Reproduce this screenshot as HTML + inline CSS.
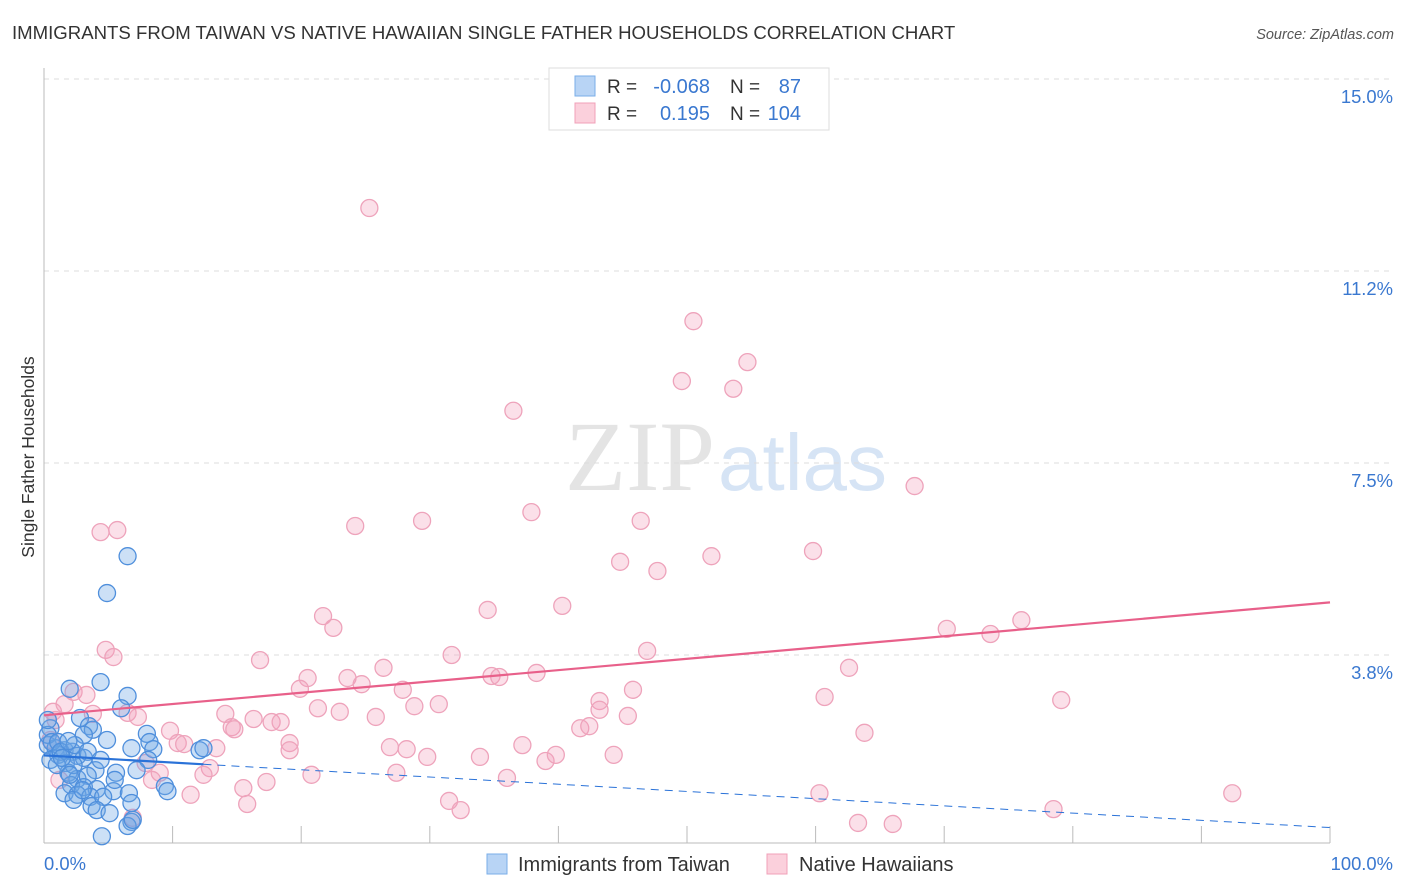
<!DOCTYPE html>
<html><head><meta charset="utf-8">
<style>
body{margin:0;background:#fff;font-family:"Liberation Sans",sans-serif;}
#wrap{position:relative;width:1406px;height:892px;overflow:hidden;}
</style></head>
<body>
<div id="wrap">
<svg id="svg" width="1406" height="892" xmlns="http://www.w3.org/2000/svg">
<text x="12" y="39" font-size="18.6" fill="#333">IMMIGRANTS FROM TAIWAN VS NATIVE HAWAIIAN SINGLE FATHER HOUSEHOLDS CORRELATION CHART</text>
<text x="1394" y="39" font-size="14.5" fill="#555" font-style="italic" text-anchor="end">Source: ZipAtlas.com</text>
<text x="715" y="490" font-size="100" fill="#e4e4e4" font-family="Liberation Serif,serif" text-anchor="end">ZIP</text>
<text x="718" y="490" font-size="80" fill="#d6e4f5">atlas</text>
<g id="grid"></g>
<g id="axes"></g>
<g id="pts"></g>
<g id="trend"></g>
<text transform="translate(34,457) rotate(-90)" font-size="17.5" fill="#333" text-anchor="middle">Single Father Households</text>
<g>
<rect x="549" y="68" width="280" height="62" fill="#fff" stroke="#ddd"/>
<rect x="575" y="76" width="20" height="20" fill="#b8d4f5" stroke="#7aaee8"/>
<rect x="575" y="103" width="20" height="20" fill="#fbd0dc" stroke="#f0a0b8"/>
<text x="607" y="93" font-size="19" fill="#333">R = </text><text x="710" y="93" font-size="20" fill="#3a78d0" text-anchor="end">-0.068</text>
<text x="730" y="93" font-size="19" fill="#333">N = </text><text x="801" y="93" font-size="20" fill="#3a78d0" text-anchor="end">87</text>
<text x="607" y="120" font-size="19" fill="#333">R = </text><text x="710" y="120" font-size="20" fill="#3a78d0" text-anchor="end">0.195</text>
<text x="730" y="120" font-size="19" fill="#333">N = </text><text x="801" y="120" font-size="20" fill="#3a78d0" text-anchor="end">104</text>
</g>
<g>
<rect x="487" y="854" width="20" height="20" fill="#b8d4f5" stroke="#7aaee8"/>
<text x="518" y="871" font-size="20" fill="#333">Immigrants from Taiwan</text>
<rect x="767" y="854" width="20" height="20" fill="#fbd0dc" stroke="#f0a0b8"/>
<text x="799" y="871" font-size="20" fill="#333">Native Hawaiians</text>
</g>
</svg>
</div>
<script>
const yTicks=[3.8,7.5,11.2,15.0];
const yTickVals=[3.75,7.5,11.25,15];
const xTickLabels=["0.0%","100.0%"];
const blueX=[6.5,4.9,4.4,2.0,6.5,6.0,2.8,3.5,3.8,3.1,0.5,8.0,4.9,8.2,0.3,0.9,1.6,2.2,6.8,8.5,12.1,12.4,1.1,2.6,3.1,0.5,1.7,8.1,4.0,5.6,7.2,1.9,2.6,3.4,2.1,3.1,4.1,9.4,1.6,2.6,3.6,5.4,6.6,9.6,2.3,3.7,4.6,6.8,4.1,5.1,6.8,6.5,6.9,4.5,0.3,0.6,1.1,1.3,2.4,1.9,3.4,1.0,2.3,1.4,0.3,4.4,3.0,2.0,5.5];
const blueY=[5.68,4.96,3.22,3.09,2.95,2.71,2.52,2.36,2.29,2.19,2.32,2.21,2.09,2.05,1.99,1.93,1.89,1.86,1.93,1.91,1.89,1.93,1.80,1.78,1.74,1.70,1.64,1.70,1.50,1.45,1.50,1.45,1.33,1.39,1.21,1.17,1.13,1.19,1.05,1.02,0.98,1.09,1.05,1.09,0.92,0.80,0.98,0.86,0.72,0.66,0.49,0.41,0.53,0.21,2.19,2.05,2.05,1.86,1.99,2.07,1.86,1.60,1.60,1.74,2.48,1.70,1.11,1.41,1.31];
const pinkX=[25.3,50.5,54.7,49.6,53.6,36.5,67.7,37.9,24.2,29.4,46.4,4.4,5.7,51.9,59.8,44.8,47.7,40.3,34.5,21.7,22.5,70.2,73.6,76.0,4.8,5.4,16.8,31.7,46.9,26.4,62.6,20.5,23.6,24.7,34.8,35.4,38.3,19.9,27.9,45.8,60.7,79.1,2.3,3.3,43.2,21.3,28.8,30.7,23.0,43.2,14.1,25.8,45.4,3.8,6.5,7.3,0.7,1.6,16.3,17.7,18.4,14.6,14.8,41.7,42.4,63.8,9.8,10.4,10.9,13.4,19.1,19.1,26.9,28.2,29.8,33.9,37.2,39.0,39.8,44.3,7.9,9.0,12.9,12.4,20.8,27.4,36.0,8.4,15.5,17.3,11.4,31.5,32.4,15.8,60.3,78.5,92.4,63.3,66.0,6.9,0.9,0.5,1.2];
const pinkY=[12.48,10.27,9.47,9.10,8.95,8.52,7.05,6.54,6.27,6.37,6.37,6.15,6.19,5.68,5.78,5.57,5.39,4.71,4.63,4.51,4.28,4.26,4.16,4.43,3.85,3.71,3.65,3.75,3.83,3.50,3.50,3.30,3.30,3.18,3.34,3.32,3.40,3.09,3.07,3.07,2.93,2.87,3.03,2.97,2.85,2.71,2.75,2.79,2.64,2.68,2.60,2.54,2.56,2.60,2.62,2.54,2.64,2.79,2.50,2.44,2.44,2.34,2.30,2.32,2.36,2.23,2.27,2.03,2.01,1.93,2.03,1.89,1.95,1.91,1.76,1.76,1.99,1.68,1.80,1.80,1.64,1.45,1.54,1.41,1.41,1.45,1.35,1.31,1.15,1.27,1.02,0.90,0.72,0.84,1.05,0.74,1.05,0.47,0.45,0.57,2.48,2.09,1.31];
const X0=44,X1=1330,Y0=847,PXPER=51.2;
const sx=v=>X0+(X1-X0)*v/100, sy=v=>Y0-v*PXPER;
const NS="http://www.w3.org/2000/svg";
function mk(tag,attrs,parent){const e=document.createElementNS(NS,tag);for(const k in attrs)e.setAttribute(k,attrs[k]);parent.appendChild(e);return e;}
const grid=document.getElementById('grid'),axes=document.getElementById('axes'),pts=document.getElementById('pts'),trend=document.getElementById('trend');
yTickVals.forEach((v,i)=>{
 const l=mk('line',{x1:X0,x2:1394,y1:sy(v),y2:sy(v),stroke:'#ddd','stroke-dasharray':'5,5'},grid);
 
 
 const t=mk('text',{x:1393,y:sy(v)+24,'font-size':18.4,fill:'#3a78d0','text-anchor':'end'},grid);
 t.textContent=yTicks[i].toFixed(1)+'%';
 
 
});
const ax=mk('line',{x1:X0,x2:X0,y1:68,y2:843,stroke:'#bbb'},axes);


const bx=mk('line',{x1:X0,x2:X1,y1:843,y2:843,stroke:'#bbb'},axes);


for(let i=1;i<=10;i++){
 const tk=mk('line',{x1:sx(i*10),x2:sx(i*10),y1:826,y2:843,stroke:'#bbb'},axes);
 
 
}
const xl0=mk('text',{x:44,y:870,'font-size':18.4,fill:'#3a78d0'},axes);xl0.textContent=xTickLabels[0];


const xl1=mk('text',{x:1393,y:870,'font-size':18.4,fill:'#3a78d0','text-anchor':'end'},axes);xl1.textContent=xTickLabels[1];


function dots(xs,ys,fill,stroke,name){xs.forEach((x,i)=>{
 const c=mk('circle',{cx:sx(x),cy:sy(ys[i]),r:8.5,fill:fill,stroke:stroke,'stroke-width':1.3},pts);
 
 
});}
dots(pinkX,pinkY,'rgba(244,160,186,0.32)','#eea3bb','point-native-hawaiian');
dots(blueX,blueY,'rgba(110,165,230,0.35)','#4f8fdc','point-taiwan');
function fit(xs,ys){const n=xs.length;let mx=0,my=0;xs.forEach((x,i)=>{mx+=x;my+=ys[i];});mx/=n;my/=n;let sxy=0,sxx=0;xs.forEach((x,i)=>{sxy+=(x-mx)*(ys[i]-my);sxx+=(x-mx)**2;});const b=sxy/sxx;return [my-b*mx,b];}
const [pa,pb]=fit(pinkX,pinkY);
const pl=mk('line',{x1:sx(0),y1:sy(pa),x2:sx(100),y2:sy(pa+pb*100),stroke:'#e8608a','stroke-width':2.2},trend);


const [ba,bb]=fit(blueX,blueY);
const xe=Math.max(...blueX);
const bl=mk('line',{x1:sx(0),y1:sy(ba),x2:sx(xe),y2:sy(ba+bb*xe),stroke:'#2a72d8','stroke-width':2.2},trend);


let xz=Math.min(100,-ba/bb>0?-ba/bb:100);
const bd=mk('line',{x1:sx(xe),y1:sy(ba+bb*xe),x2:sx(xz),y2:sy(ba+bb*xz),stroke:'#2a72d8','stroke-width':1,'stroke-dasharray':'8,6'},trend);


</script>
</body></html>
